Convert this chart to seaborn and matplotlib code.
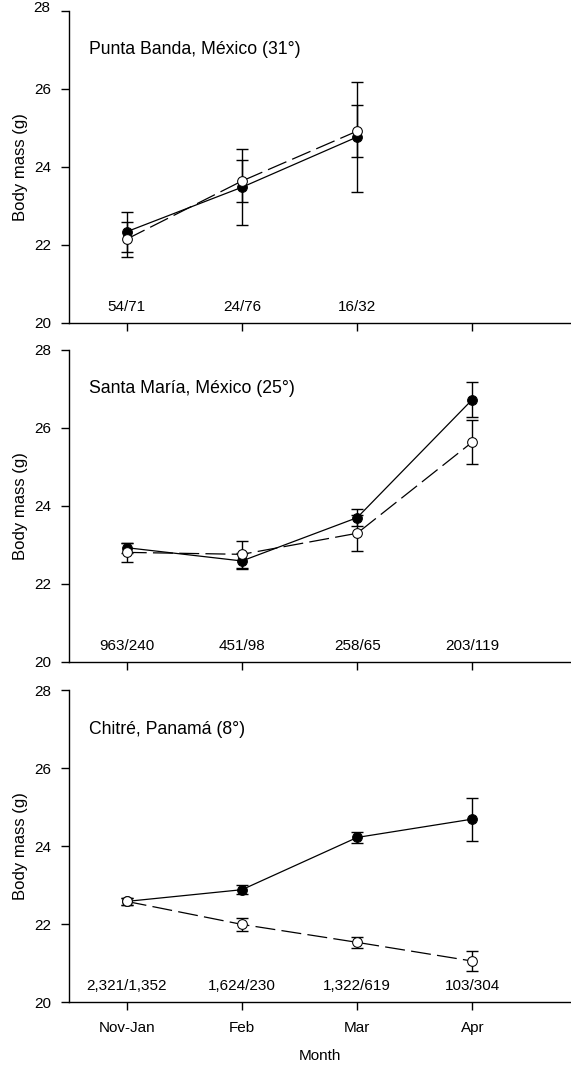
import numpy as np
import pandas as pd
import matplotlib
matplotlib.use("Agg")
import matplotlib.pyplot as plt
import seaborn as sns

# Data (mean +/- error), filled = solid line, open = dashed
months = ["Nov-Jan", "Feb", "Mar", "Apr"]
sites = ["Punta Banda, México (31°)", "Santa María, México (25°)", "Chitré, Panamá (8°)"]

pb_filled = [22.34, 23.48, 24.77]
pb_filled_err = [0.51, 0.97, 1.41]
pb_open = [22.15, 23.64, 24.92]
pb_open_err = [0.45, 0.54, 0.66]
pb_n = ["54/71", "24/76", "16/32"]

sm_filled = [22.93, 22.59, 23.70, 26.73]
sm_filled_err = [0.13, 0.20, 0.21, 0.46]
sm_open = [22.81, 22.76, 23.30, 25.64]
sm_open_err = [0.24, 0.35, 0.46, 0.57]
sm_n = ["963/240", "451/98", "258/65", "203/119"]

ch_filled = [22.58, 22.88, 24.22, 24.69]
ch_filled_err = [0.08, 0.11, 0.13, 0.55]
ch_open = [22.58, 21.99, 21.53, 21.05]
ch_open_err = [0.08, 0.16, 0.14, 0.25]
ch_n = ["2,321/1,352", "1,624/230", "1,322/619", "103/304"]

panels = [
    (pb_filled, pb_filled_err, pb_open, pb_open_err, pb_n),
    (sm_filled, sm_filled_err, sm_open, sm_open_err, sm_n),
    (ch_filled, ch_filled_err, ch_open, ch_open_err, ch_n),
]

sns.set_style("ticks")
plt.rcParams["font.family"] = ["Liberation Sans", "DejaVu Sans"]
plt.rcParams["text.color"] = "black"
plt.rcParams["axes.labelcolor"] = "black"

fig = plt.figure(figsize=(5.71, 10.67), dpi=100)
left, width, height = 0.121, 0.879, 0.2924
bottoms = [0.6973, 0.3796, 0.0609]

for i, (f, fe, o, oe, n) in enumerate(panels):
    ax = fig.add_axes([left, bottoms[i], width, height])
    x = np.arange(len(f))
    df = pd.DataFrame({"x": x, "filled": f, "open": o})

    ax.errorbar(x, f, yerr=fe, fmt="none", ecolor="black", elinewidth=1, capsize=4, capthick=1, zorder=2)
    ax.errorbar(x, o, yerr=oe, fmt="none", ecolor="black", elinewidth=1, capsize=4, capthick=1, zorder=2)
    sns.lineplot(data=df, x="x", y="filled", ax=ax, color="black", lw=0.9,
                 marker="o", markersize=7, markerfacecolor="black", markeredgecolor="black", zorder=3)
    sns.lineplot(data=df, x="x", y="open", ax=ax, color="black", lw=0.9,
                 marker="o", markersize=7, markerfacecolor="white", markeredgecolor="black", zorder=4)
    ax.lines[-1].set_dashes((16, 5))

    for xi, lab in zip(x, n):
        ax.text(xi, 20.4, lab, ha="center", va="center", fontsize=11, color="black")
    ax.text(-0.33, 27.0, sites[i], ha="left", va="center", fontsize=12.7, color="black")

    ax.set_xlim(-0.5, 3.856)
    ax.set_ylim(20, 28)
    ax.set_yticks([20, 22, 24, 26, 28])
    ax.set_xticks(range(4))
    if i == 0:
        # top label of the first panel sits right at the image edge
        ax.set_yticklabels(["20", "22", "24", "26", ""])
        fig.text(50 / 571, 1 - 7.5 / 1067, "28", ha="right", va="center", fontsize=11, color="black")
    if i == 2:
        ax.set_xticklabels(months)
        ax.set_xlabel("Month", fontsize=11, labelpad=10)
    else:
        ax.set_xticklabels([])
        ax.set_xlabel("")
    ax.set_ylabel("Body mass (g)", fontsize=12, labelpad=5)
    ax.tick_params(direction="out", length=6, width=1, labelsize=11, colors="black")
    ax.tick_params(axis="x", pad=7.5)
    ax.tick_params(axis="y", pad=6.5)
    sns.despine(ax=ax)
    for s in ["left", "bottom"]:
        ax.spines[s].set_linewidth(1)
        ax.spines[s].set_color("black")

fig.savefig("out.png", dpi=100)
